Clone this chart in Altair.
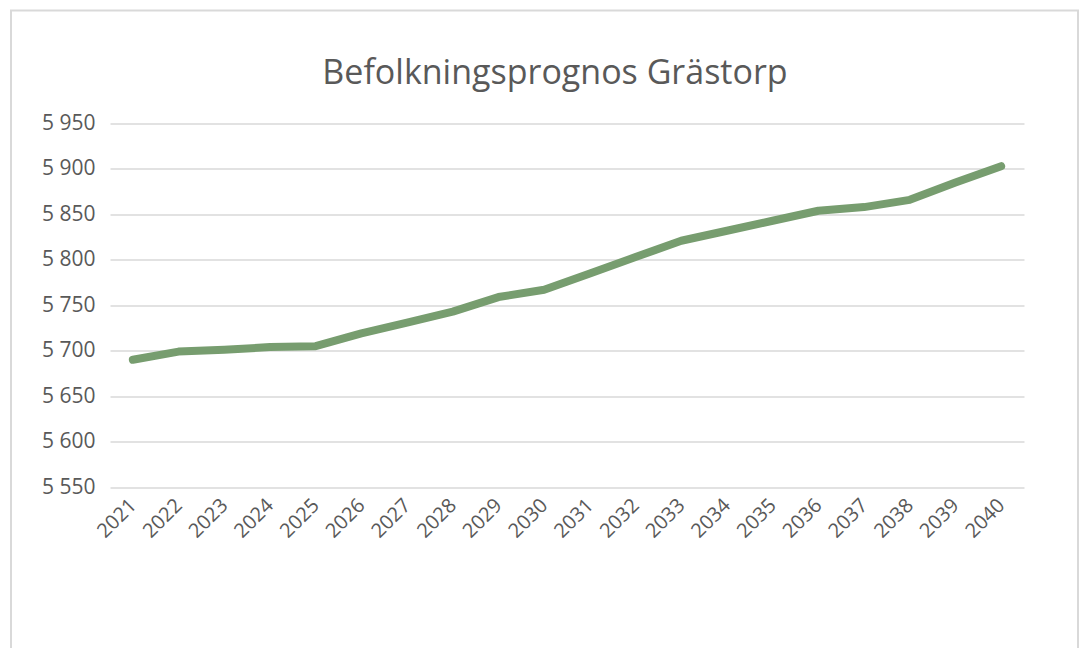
import altair as alt
import pandas as pd

years = [str(y) for y in range(2021, 2041)]
population = [5690, 5699, 5701, 5704, 5705, 5719, 5731, 5743, 5759, 5767,
              5785, 5803, 5821, 5832, 5843, 5854, 5858, 5866, 5885, 5903]
y_ticks = [5550, 5600, 5650, 5700, 5750, 5800, 5850, 5900, 5950]
title_text = "Befolkningsprognos Grästorp"

df = pd.DataFrame({"År": years, "Befolkning": population})

FONT = "Open Sans"
GREY = "#595959"

line = alt.Chart(df).mark_line(
    color="#779d6f", strokeWidth=8, strokeCap="round", strokeJoin="round"
).encode(
    x=alt.X("År:O", sort=years, scale=alt.Scale(padding=0.5),
            axis=alt.Axis(title=None, labelAngle=-45, labelAlign="right",
                          labelBaseline="middle", labelPadding=15, ticks=False,
                          domain=False, grid=False, labelFont=FONT,
                          labelFontSize=20, labelColor=GREY)),
    y=alt.Y("Befolkning:Q", scale=alt.Scale(domain=[5550, 5950], nice=False, zero=False),
            axis=alt.Axis(title=None, values=y_ticks, ticks=False, domain=False,
                          grid=True, gridColor="#d9d9d9", gridWidth=1.5,
                          labelPadding=15, labelFont=FONT, labelFontSize=21,
                          labelColor=GREY,
                          labelExpr="replace(format(datum.value, ',d'), ',', ' ')")),
)

border = alt.Chart(pd.DataFrame({"a": [0]})).mark_rect(
    fill=None, stroke="#d9d9d9", strokeWidth=2
).encode(
    x=alt.value(-99), x2=alt.value(968), y=alt.value(-113), y2=alt.value(560)
)

title = alt.Chart(pd.DataFrame({"t": [title_text]})).mark_text(
    font=FONT, fontSize=34, color=GREY, align="center", baseline="alphabetic"
).encode(
    text="t:N", x=alt.value(445), y=alt.value(-40)
)

chart = alt.layer(border, line, title).properties(
    width=914, height=363.5,
    padding={"left": 110, "top": 123.5, "right": 63, "bottom": 161},
    autosize=alt.AutoSizeParams(type="none"),
    background="white",
).configure_view(stroke=None)

chart.save("out.html", embed_options={"renderer": "svg", "actions": False})
